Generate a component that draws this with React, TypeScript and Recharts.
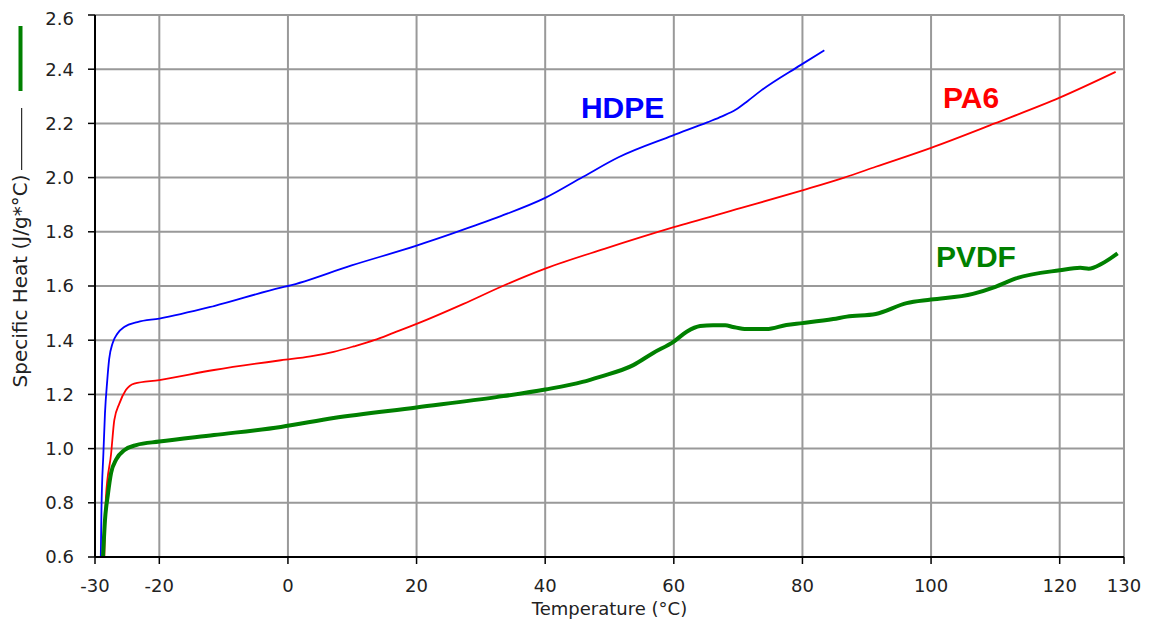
import { LineChart, Line, XAxis, YAxis, CartesianGrid, ReferenceDot } from 'recharts'

// temperatures (°C) and specific heat (J/g*°C)
const hdpeTemp = [-29.1, -29.0, -28.7, -28.45, -28.1, -27.8, -27.25, -26.5, -25.4, -23.4, -20, -11.5, -1.1, 0, 9.9, 20, 25.4, 28.7, 33.1, 40, 45.9, 51.4, 59.8, 65.2, 67.5, 69.6, 71.5, 73.5, 79.7, 83.4]
const hdpeCp = [0.6, 0.77, 0.98, 1.13, 1.25, 1.33, 1.39, 1.425, 1.45, 1.467, 1.48, 1.526, 1.594, 1.6, 1.676, 1.749, 1.792, 1.82, 1.858, 1.925, 2.003, 2.075, 2.155, 2.204, 2.226, 2.25, 2.283, 2.32, 2.415, 2.47]

const pa6Temp = [-28.55, -28.3, -27.5, -27.0, -26.2, -25.2, -23.9, -20, -11.5, -1.1, 3.5, 7.1, 10.2, 13.4, 16.5, 20, 27.3, 33.4, 40, 49.2, 60, 70.5, 80, 86.5, 91.4, 100, 109.9, 120, 128.7]
const pa6Cp = [0.6, 0.82, 0.98, 1.105, 1.167, 1.216, 1.24, 1.253, 1.29, 1.326, 1.34, 1.357, 1.377, 1.4, 1.428, 1.46, 1.534, 1.6, 1.664, 1.737, 1.817, 1.888, 1.953, 2.0, 2.04, 2.11, 2.2, 2.295, 2.39]

const pvdfTemp = [-28.75, -28.45, -28.0, -27.5, -26.7, -25.4, -23.6, -20, -11.5, -1.1, 7.1, 20, 32.4, 40, 45.8, 48.5, 53.7, 56.8, 60, 62.0, 64.1, 66.1, 68, 69.2, 71.3, 74.4, 77.5, 80, 84.8, 86.9, 91.4, 96.2, 100, 106.5, 110, 113.2, 120, 123.2, 124.5, 126.6, 129]
const pvdfCp = [0.6, 0.735, 0.83, 0.91, 0.96, 0.995, 1.013, 1.026, 1.05, 1.08, 1.113, 1.152, 1.19, 1.218, 1.246, 1.265, 1.308, 1.353, 1.395, 1.431, 1.452, 1.455, 1.455, 1.449, 1.441, 1.441, 1.456, 1.463, 1.478, 1.487, 1.497, 1.537, 1.55, 1.571, 1.597, 1.628, 1.658, 1.667, 1.664, 1.683, 1.72]

const xTicks = [-30, -20, 0, 20, 40, 60, 80, 100, 120, 130]
const yTicks = [0.6, 0.8, 1.0, 1.2, 1.4, 1.6, 1.8, 2.0, 2.2, 2.4, 2.6]

const seriesNames = ['HDPE', 'PA6', 'PVDF']
const seriesColors = ['#0000ff', '#ff0000', '#008000']
const labelTemp = [45.4, 101.7, 100.6]
const labelCp = [2.259, 2.296, 1.709]

const toRows = (temps: number[], cps: number[]) => temps.map((t, i) => ({ t, cp: cps[i] }))

const hdpe = toRows(hdpeTemp, hdpeCp)
const pa6 = toRows(pa6Temp, pa6Cp)
const pvdf = toRows(pvdfTemp, pvdfCp)

const font = 'DejaVu Sans'

function YLabel() {
  return (
    <g>
      <rect x={10.5} y={18} width={4} height={65} fill='#008000' />
      <line x1={13.7} y1={100} x2={13.7} y2={162} stroke='#000' strokeWidth={1} />
      <text
        x={19}
        y={273}
        transform='rotate(-90 19 273)'
        textAnchor='middle'
        fontSize={20}
        fontFamily={font}
        fill='#222'
      >
        Specific Heat (J/g*°C)
      </text>
    </g>
  )
}

export default function App() {
  return (
    <div style={{ width: 1144, height: 612 }}>
      <LineChart
        width={1144}
        height={612}
        margin={{ top: 7, right: 28, left: 27, bottom: 13 }}
      >
        <CartesianGrid stroke='#999' strokeWidth={2} />
        <XAxis
          type='number'
          dataKey='t'
          domain={[-30, 130]}
          ticks={xTicks}
          allowDataOverflow
          height={50}
          tickSize={7}
          tickMargin={15}
          axisLine={{ stroke: '#000', strokeWidth: 2 }}
          tickLine={{ stroke: '#000', strokeWidth: 1.5 }}
          tick={{ fontSize: 18, fill: '#222', fontFamily: font }}
          label={{
            value: 'Temperature (°C)',
            position: 'bottom',
            offset: -5,
            fontSize: 18,
            fill: '#222',
            fontFamily: font,
          }}
        />
        <YAxis
          type='number'
          domain={[0.6, 2.6]}
          ticks={yTicks}
          allowDataOverflow
          width={60}
          tickSize={7}
          tickMargin={14}
          axisLine={{ stroke: '#000', strokeWidth: 2 }}
          tickLine={{ stroke: '#000', strokeWidth: 1.5 }}
          tick={{ fontSize: 18, fill: '#222', fontFamily: font }}
          tickFormatter={(v: number) => v.toFixed(1)}
          label={<YLabel />}
        />
        <Line data={hdpe} dataKey='cp' type='monotone' stroke={seriesColors[0]} strokeWidth={1.8} dot={false} activeDot={false} isAnimationActive={false} />
        <Line data={pa6} dataKey='cp' type='monotone' stroke={seriesColors[1]} strokeWidth={1.8} dot={false} activeDot={false} isAnimationActive={false} />
        <Line data={pvdf} dataKey='cp' type='monotone' stroke={seriesColors[2]} strokeWidth={4} dot={false} activeDot={false} isAnimationActive={false} />
        {seriesNames.map((name, i) => (
          <ReferenceDot
            key={name}
            x={labelTemp[i]}
            y={labelCp[i]}
            r={1}
            fill='none'
            stroke='none'
            label={{
              value: name,
              position: 'right',
              offset: 0,
              fill: seriesColors[i],
              fontSize: 30,
              fontWeight: 'bold',
              fontFamily: 'Liberation Sans',
            }}
          />
        ))}
      </LineChart>
    </div>
  )
}
